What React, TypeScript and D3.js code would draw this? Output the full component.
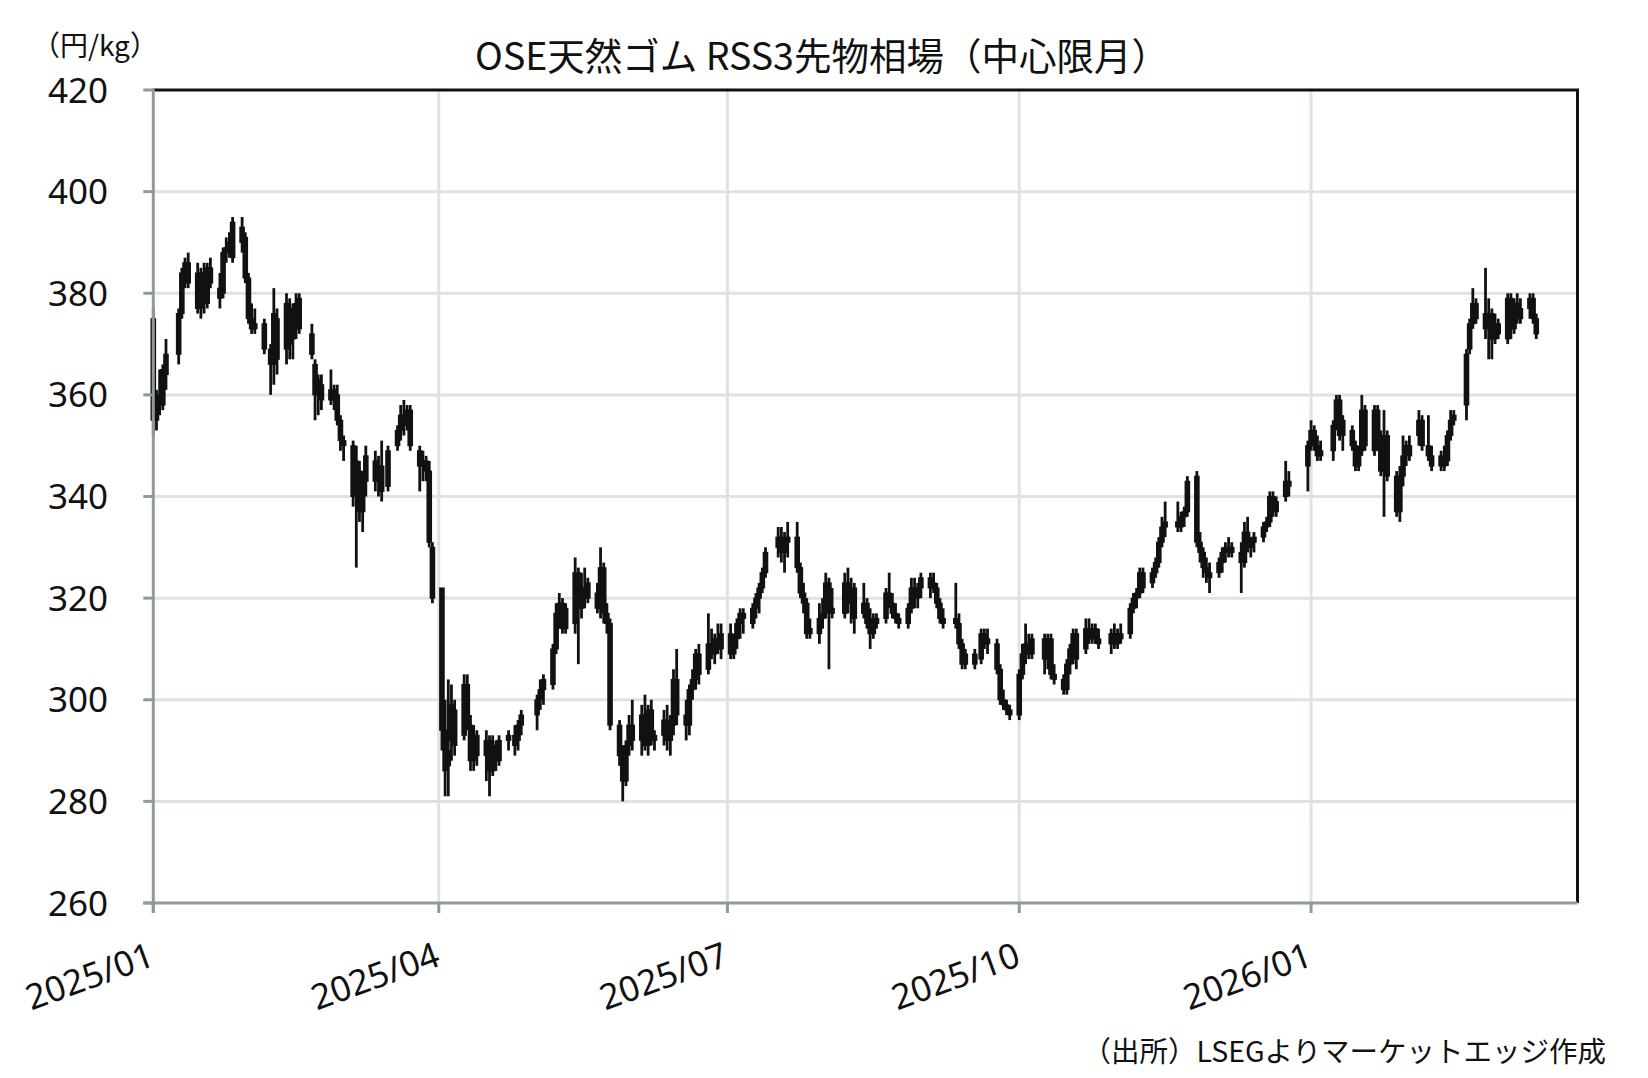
import React, { useEffect, useRef } from 'react';
import * as d3 from 'd3';

// [day of month, open, high, low, close] in 円/kg
type Row = [number, number, number, number, number];

const jan2025: Row[] = [
  [6, 375, 377, 352, 355], [7, 355, 361, 353, 360], [8, 360, 365, 356, 358], [9, 358, 366, 357, 365],
  [10, 364, 371, 361, 368], [14, 368, 377, 366, 376], [15, 376, 385, 375, 384], [16, 384, 387, 381, 386],
  [17, 386, 388, 381, 382], [20, 384, 386, 376, 377], [21, 377, 385, 375, 384], [22, 384, 386, 376, 378],
  [23, 378, 386, 377, 385], [24, 385, 387, 381, 382], [27, 381, 384, 377, 379], [28, 380, 389, 379, 388],
  [29, 388, 391, 386, 389], [30, 389, 392, 387, 390], [31, 387, 395, 386, 394],
];
const feb2025: Row[] = [
  [3, 393, 395, 388, 390], [4, 391, 392, 382, 383], [5, 383, 384, 374, 375], [6, 375, 378, 372, 373],
  [7, 373, 377, 372, 374], [10, 374, 375, 368, 369], [12, 369, 370, 360, 366], [13, 366, 381, 362, 376],
  [14, 375, 377, 364, 367], [17, 369, 380, 366, 378], [18, 377, 379, 367, 370], [19, 371, 378, 367, 377],
  [20, 378, 380, 371, 373], [21, 373, 380, 372, 379], [25, 372, 374, 367, 368], [26, 366, 367, 355, 360],
  [27, 360, 364, 356, 363], [28, 362, 364, 357, 359],
];
const mar2025: Row[] = [
  [3, 359, 365, 358, 361], [4, 361, 362, 357, 359], [5, 360, 362, 354, 355], [6, 355, 356, 349, 351],
  [7, 351, 352, 347, 350], [10, 350, 351, 338, 340], [11, 340, 350, 326, 347], [12, 345, 347, 335, 337],
  [13, 337, 345, 333, 343], [14, 343, 350, 340, 348], [17, 347, 349, 341, 343], [18, 343, 348, 340, 346],
  [19, 346, 351, 339, 341], [21, 342, 350, 341, 349], [24, 350, 354, 349, 353], [25, 353, 358, 351, 356],
  [26, 356, 359, 352, 354], [27, 354, 358, 353, 357], [28, 357, 358, 349, 350], [31, 349, 350, 341, 346],
];
const apr2025: Row[] = [
  [1, 346, 349, 343, 347], [2, 347, 348, 343, 345], [3, 345, 347, 330, 331], [4, 330, 331, 319, 320],
  [7, 322, 322, 290, 294], [8, 294, 300, 281, 286], [9, 287, 304, 281, 290], [10, 292, 303, 288, 299],
  [11, 298, 300, 289, 291], [14, 293, 305, 292, 303], [15, 303, 305, 294, 295], [16, 295, 297, 286, 288],
  [17, 288, 295, 286, 293], [18, 293, 294, 287, 289], [21, 289, 294, 284, 292], [22, 292, 293, 281, 286],
  [23, 286, 293, 285, 291], [24, 290, 292, 286, 288], [25, 288, 293, 287, 292], [28, 292, 294, 290, 293],
  [30, 293, 295, 289, 291],
];
const may2025: Row[] = [
  [1, 292, 296, 290, 295], [2, 295, 298, 293, 297], [7, 297, 301, 294, 300], [8, 300, 304, 298, 302],
  [9, 302, 305, 299, 304], [12, 303, 311, 302, 310], [13, 310, 319, 309, 317], [14, 317, 321, 314, 319],
  [15, 319, 320, 313, 314], [16, 314, 319, 313, 318], [19, 315, 328, 313, 325], [20, 325, 326, 307, 318],
  [21, 318, 325, 316, 322], [22, 322, 326, 318, 320], [23, 320, 324, 319, 323], [26, 321, 323, 317, 318],
  [27, 318, 330, 316, 326], [28, 326, 327, 315, 317], [29, 317, 319, 313, 315], [30, 315, 316, 294, 295],
];
const jun2025: Row[] = [
  [2, 295, 296, 287, 289], [3, 289, 291, 280, 284], [4, 284, 292, 283, 291], [5, 291, 297, 289, 295],
  [6, 295, 300, 290, 292], [9, 292, 299, 289, 297], [10, 297, 301, 290, 291], [11, 291, 299, 289, 298],
  [12, 298, 300, 291, 292], [13, 292, 294, 290, 293], [16, 293, 298, 291, 296], [17, 296, 299, 290, 292],
  [18, 292, 297, 289, 295], [19, 295, 306, 293, 304], [20, 304, 310, 295, 297], [23, 297, 300, 292, 295],
  [24, 295, 303, 293, 302], [25, 302, 306, 300, 304], [26, 304, 310, 302, 309], [27, 309, 311, 303, 305],
  [30, 306, 317, 305, 311],
];
const jul2025: Row[] = [
  [1, 311, 314, 308, 309], [2, 309, 313, 307, 312], [3, 312, 315, 309, 310], [4, 310, 315, 308, 313],
  [7, 313, 315, 308, 309], [8, 309, 313, 308, 312], [9, 312, 316, 310, 315], [10, 315, 318, 312, 317],
  [11, 317, 318, 313, 316], [14, 315, 319, 314, 318], [15, 318, 321, 316, 320], [16, 320, 323, 317, 322],
  [17, 322, 326, 321, 325], [18, 325, 330, 324, 329], [22, 330, 334, 328, 332], [23, 332, 334, 327, 329],
  [24, 329, 333, 325, 331], [25, 331, 335, 328, 332], [28, 332, 335, 325, 326], [29, 326, 327, 320, 321],
  [30, 321, 323, 317, 319], [31, 319, 320, 312, 313],
];
const aug2025: Row[] = [
  [1, 314, 316, 312, 313], [4, 313, 319, 311, 316], [5, 316, 320, 314, 317], [6, 317, 325, 316, 323],
  [7, 323, 324, 306, 318], [8, 318, 322, 316, 317], [12, 317, 325, 316, 323], [13, 323, 326, 317, 319],
  [14, 319, 324, 315, 322], [15, 322, 323, 313, 316], [18, 317, 323, 316, 319], [19, 319, 320, 314, 315],
  [20, 315, 318, 310, 313], [21, 313, 317, 312, 316], [22, 316, 317, 314, 315], [25, 316, 322, 315, 321],
  [26, 321, 325, 318, 319], [27, 319, 321, 316, 317], [28, 317, 319, 315, 316], [29, 316, 317, 314, 315],
];
const sep2025: Row[] = [
  [1, 315, 319, 314, 318], [2, 318, 324, 317, 322], [3, 322, 324, 318, 320], [4, 320, 323, 318, 322],
  [5, 322, 325, 320, 324], [8, 324, 325, 320, 322], [9, 322, 325, 321, 323], [10, 322, 323, 318, 319],
  [11, 319, 320, 315, 316], [12, 316, 318, 314, 315], [16, 316, 323, 314, 315], [17, 315, 317, 310, 311],
  [18, 311, 312, 306, 307], [19, 307, 310, 306, 309], [22, 309, 310, 306, 307], [24, 308, 314, 307, 313],
  [25, 313, 314, 310, 311], [26, 311, 314, 309, 312], [29, 311, 312, 305, 306], [30, 306, 307, 299, 300],
];
const oct2025: Row[] = [
  [1, 300, 302, 298, 299], [2, 299, 300, 297, 298], [3, 298, 299, 296, 297], [6, 297, 306, 296, 305],
  [7, 305, 311, 304, 309], [8, 309, 315, 307, 311], [9, 311, 313, 308, 309], [10, 309, 313, 308, 312],
  [14, 312, 313, 305, 308], [15, 308, 313, 306, 312], [16, 312, 313, 304, 305], [17, 305, 307, 303, 304],
  [20, 304, 305, 301, 302], [21, 302, 308, 301, 307], [22, 307, 311, 305, 310], [23, 310, 314, 307, 313],
  [24, 313, 314, 306, 308], [27, 310, 316, 309, 314], [28, 314, 316, 311, 312], [29, 312, 315, 311, 314],
  [30, 314, 315, 311, 312], [31, 312, 314, 310, 311],
];
const nov2025: Row[] = [
  [4, 311, 314, 309, 313], [5, 313, 315, 310, 311], [6, 311, 314, 310, 313], [7, 313, 315, 311, 312],
  [10, 313, 319, 312, 318], [11, 318, 321, 317, 320], [12, 320, 322, 318, 321], [13, 321, 326, 320, 325],
  [14, 325, 326, 321, 322], [17, 323, 326, 322, 325], [18, 325, 328, 324, 327], [19, 327, 332, 326, 331],
  [20, 331, 336, 330, 334], [21, 334, 339, 332, 335], [25, 335, 339, 333, 334], [26, 334, 337, 333, 336],
  [27, 336, 338, 334, 337], [28, 337, 344, 336, 343],
];
const dec2025: Row[] = [
  [1, 344, 345, 330, 331], [2, 331, 333, 327, 329], [3, 329, 330, 324, 326], [4, 326, 328, 323, 325],
  [5, 325, 327, 321, 324], [8, 325, 328, 324, 327], [9, 327, 330, 325, 329], [10, 329, 331, 327, 330],
  [11, 330, 332, 328, 329], [12, 329, 331, 328, 330], [15, 329, 331, 321, 327], [16, 327, 335, 326, 333],
  [17, 333, 336, 329, 330], [18, 330, 332, 328, 331], [19, 331, 333, 329, 332], [22, 332, 335, 331, 334],
  [23, 334, 336, 333, 335], [24, 335, 341, 334, 340], [25, 340, 341, 336, 337], [26, 337, 340, 336, 339],
  [29, 340, 347, 339, 343], [30, 343, 345, 340, 342],
];
const jan2026: Row[] = [
  [5, 346, 351, 341, 350], [6, 350, 355, 349, 353], [7, 353, 354, 349, 350], [8, 350, 352, 347, 348],
  [9, 348, 351, 347, 349], [13, 349, 355, 347, 354], [14, 354, 360, 353, 359], [15, 359, 360, 351, 352],
  [16, 352, 356, 349, 355], [19, 353, 354, 349, 350], [20, 350, 351, 345, 346], [21, 346, 350, 345, 349],
  [22, 349, 360, 348, 357], [23, 357, 358, 349, 350], [26, 349, 358, 348, 357], [27, 357, 358, 349, 350],
  [28, 351, 353, 344, 345], [29, 345, 357, 336, 352], [30, 352, 353, 343, 344],
];
const feb2026: Row[] = [
  [2, 344, 345, 336, 337], [3, 337, 346, 335, 344], [4, 344, 352, 342, 348], [5, 348, 351, 346, 350],
  [6, 350, 352, 347, 348], [9, 352, 357, 350, 355], [10, 355, 356, 349, 350], [12, 350, 356, 347, 348],
  [13, 348, 350, 345, 346], [16, 346, 349, 345, 348], [17, 348, 350, 345, 346], [18, 347, 353, 346, 352],
  [19, 352, 357, 351, 355], [20, 355, 357, 354, 356], [24, 358, 369, 355, 368], [25, 369, 375, 368, 374],
  [26, 374, 381, 373, 378], [27, 378, 379, 374, 375],
];
const mar2026: Row[] = [
  [2, 376, 385, 371, 373], [3, 373, 379, 367, 376], [4, 376, 377, 367, 371], [5, 371, 376, 370, 374],
  [6, 374, 375, 371, 372], [9, 371, 380, 370, 379], [10, 379, 380, 371, 373], [11, 373, 379, 372, 378],
  [12, 378, 380, 374, 375], [13, 375, 379, 374, 377], [16, 377, 380, 375, 379], [17, 379, 380, 374, 375],
  [18, 375, 376, 371, 372],
];

const months: [number, number, Row[]][] = [
  [2025, 1, jan2025], [2025, 2, feb2025], [2025, 3, mar2025], [2025, 4, apr2025], [2025, 5, may2025],
  [2025, 6, jun2025], [2025, 7, jul2025], [2025, 8, aug2025], [2025, 9, sep2025], [2025, 10, oct2025],
  [2025, 11, nov2025], [2025, 12, dec2025], [2026, 1, jan2026], [2026, 2, feb2026], [2026, 3, mar2026],
];

const yTicks = [260, 280, 300, 320, 340, 360, 380, 400, 420];
// Excel date axis: min 2025/01/06, major unit 3 months
const xTickLabels = ['2025/01', '2025/04', '2025/07', '2025/10', '2026/01'];

const TITLE = 'OSE天然ゴム RSS3先物相場（中心限月）';
const UNIT = '（円/kg）';
const SOURCE = '（出所）LSEGよりマーケットエッジ作成';

const W = 1648;
const H = 1078;
const FONT = "'Noto Sans CJK JP', 'Noto Sans', sans-serif";
const NUM_FONT = "'Noto Sans', 'Noto Sans CJK JP', sans-serif";

const Chart: React.FC = () => {
  const ref = useRef<SVGSVGElement>(null);

  useEffect(() => {
    if (!ref.current) return;
    const svg = d3.select(ref.current);
    svg.selectAll('*').remove();

    const left = 153.3, right = 1577.5, top = 90, bottom = 903;

    const x = d3
      .scaleTime()
      .domain([new Date(2025, 0, 6), new Date(2026, 2, 31)])
      .range([left, right]);
    const y = d3.scaleLinear().domain([260, 420]).range([bottom, top]);

    const candles = months.flatMap(([yr, mo, rows]) =>
      rows.map(([day, o, h, l, c]) => ({ date: new Date(yr, mo - 1, day), o, h, l, c }))
    );
    const tickDates = xTickLabels.map((s) => {
      const [yr, mo] = s.split('/').map(Number);
      return new Date(yr, mo - 1, 6);
    });

    svg.append('rect').attr('width', W).attr('height', H).attr('fill', '#ffffff');

    // gridlines
    const grid = svg.append('g').attr('stroke', '#dde3e3').attr('stroke-width', 3);
    grid
      .selectAll('.hg')
      .data(yTicks.filter((v) => v !== 260 && v !== 420))
      .enter()
      .append('line')
      .attr('x1', left)
      .attr('x2', right)
      .attr('y1', (d) => y(d))
      .attr('y2', (d) => y(d));
    grid
      .selectAll('.vg')
      .data(tickDates.slice(1))
      .enter()
      .append('line')
      .attr('x1', (d) => x(d))
      .attr('x2', (d) => x(d))
      .attr('y1', top)
      .attr('y2', bottom);

    // candles (up and down bars both drawn black)
    const cg = svg.append('g').attr('fill', '#111111').attr('stroke', '#111111');
    cg.selectAll('.wick')
      .data(candles)
      .enter()
      .append('line')
      .attr('x1', (d) => x(d.date))
      .attr('x2', (d) => x(d.date))
      .attr('y1', (d) => y(d.h))
      .attr('y2', (d) => y(d.l))
      .attr('stroke-width', 2.8);
    const bw = 5.6;
    cg.selectAll('.body')
      .data(candles)
      .enter()
      .append('rect')
      .attr('x', (d) => x(d.date) - bw / 2)
      .attr('width', bw)
      .attr('y', (d) => y(Math.max(d.o, d.c)) - 0.5)
      .attr('height', (d) => Math.max(2, Math.abs(y(d.o) - y(d.c)) + 1))
      .attr('stroke', 'none');

    // frame: top/right black, left/bottom grey axes
    const axisGrey = '#8e9a9d';
    svg.append('line').attr('x1', left).attr('x2', right + 1.5).attr('y1', top).attr('y2', top)
      .attr('stroke', '#111').attr('stroke-width', 3);
    svg.append('line').attr('x1', right).attr('x2', right).attr('y1', top).attr('y2', bottom)
      .attr('stroke', '#111').attr('stroke-width', 3);

    const yAxis = svg.append('g');
    yAxis.append('line').attr('x1', left).attr('x2', left).attr('y1', top - 1.5).attr('y2', bottom + 10)
      .attr('stroke', axisGrey).attr('stroke-width', 3);
    yAxis
      .selectAll('.yt')
      .data(yTicks)
      .enter()
      .append('line')
      .attr('x1', left - 10)
      .attr('x2', left)
      .attr('y1', (d) => y(d))
      .attr('y2', (d) => y(d))
      .attr('stroke', axisGrey)
      .attr('stroke-width', 3);
    yAxis
      .selectAll('.yl')
      .data(yTicks)
      .enter()
      .append('text')
      .attr('x', 108)
      .attr('y', (d) => y(d))
      .attr('dy', '0.36em')
      .attr('text-anchor', 'end')
      .attr('font-family', NUM_FONT)
      .attr('font-size', 35)
      .attr('fill', '#111')
      .text((d) => d);

    const xAxis = svg.append('g');
    xAxis.append('line').attr('x1', left - 10).attr('x2', right).attr('y1', bottom).attr('y2', bottom)
      .attr('stroke', axisGrey).attr('stroke-width', 3);
    xAxis
      .selectAll('.xt')
      .data(tickDates)
      .enter()
      .append('line')
      .attr('x1', (d) => x(d))
      .attr('x2', (d) => x(d))
      .attr('y1', bottom)
      .attr('y2', bottom + 10)
      .attr('stroke', axisGrey)
      .attr('stroke-width', 3);
    xAxis
      .selectAll('.xl')
      .data(tickDates)
      .enter()
      .append('text')
      .attr('transform', (d) => `translate(${x(d) + 3},965) rotate(-20)`)
      .attr('text-anchor', 'end')
      .attr('font-family', NUM_FONT)
      .attr('font-size', 35)
      .attr('fill', '#111')
      .text((_, i) => xTickLabels[i]);

    // texts
    svg.append('text').attr('x', 822).attr('y', 70).attr('text-anchor', 'middle')
      .attr('font-family', FONT).attr('font-size', 37.5).attr('fill', '#111').text(TITLE);
    svg.append('text').attr('x', 32).attr('y', 56)
      .attr('font-family', FONT).attr('font-size', 28).attr('fill', '#111').text(UNIT);
    svg.append('text').attr('x', 1606).attr('y', 1062).attr('text-anchor', 'end')
      .attr('font-family', FONT).attr('font-size', 28.5).attr('fill', '#111').text(SOURCE);
  }, []);

  return (
    <svg
      ref={ref}
      width={W}
      height={H}
      style={{ position: 'absolute', left: 0, top: 0, display: 'block' }}
    />
  );
};

export default function App() {
  return <Chart />;
}
